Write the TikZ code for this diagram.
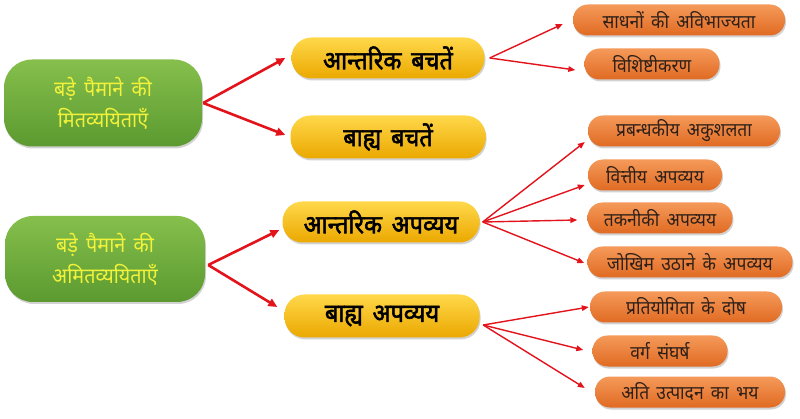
\documentclass[tikz,border=0pt]{standalone}
\usepackage{fontspec}
\newfontfamily\deva[Script=Devanagari,WordSpace=1.6,FakeStretch=0.92]{Noto Sans}
\newfontfamily\devab[Script=Devanagari,FakeBold=2.2,WordSpace=1.6,FakeStretch=0.92]{Noto Sans}
\usetikzlibrary{arrows.meta,shadows,calc}
\definecolor{gtop}{HTML}{86BF4C}
\definecolor{gbot}{HTML}{5B9A30}
\definecolor{ytop}{HTML}{FFD84A}
\definecolor{ymid}{HTML}{FFC400}
\definecolor{ybot}{HTML}{EBA800}
\definecolor{otop}{HTML}{F59A5A}
\definecolor{omid}{HTML}{EE7E35}
\definecolor{obot}{HTML}{E06A22}
\definecolor{arrred}{HTML}{E3131B}
\definecolor{gtext}{HTML}{F2F23A}
\definecolor{otext}{HTML}{2E2018}
\tikzset{
  box/.style={inner sep=0pt, align=center, drop shadow={opacity=0.35, shadow xshift=1pt, shadow yshift=-2pt}},
  greenbox/.style={box, rounded corners=28pt, top color=gtop, bottom color=gbot, text=gtext,
     font=\deva\fontsize{21.5}{31}\selectfont},
  yellowbox/.style={box, rounded corners=20pt, minimum height=41pt, top color=ytop, middle color=ymid, bottom color=ybot,
     font=\devab\fontsize{25.5}{28}\selectfont, text=black},
  orangebox/.style={box, rounded corners=15pt, minimum height=31pt, top color=otop, middle color=omid, bottom color=obot,
     font=\deva\fontsize{19}{20}\selectfont, text=otext},
  bigarr/.style={draw=arrred, line width=2.6pt, -{Triangle[length=9pt,width=8pt]}},
  smallarr/.style={draw=arrred, line width=1.4pt, -{Triangle[length=7pt,width=5.5pt]}},
}
\begin{document}
\begin{tikzpicture}[x=1pt,y=-1pt]
\useasboundingbox[fill=white] (0,0) rectangle (800,419);
% left green
\node[greenbox, minimum width=198pt, minimum height=87pt] (g1) at (103,103) {बड़े पैमाने की\\मितव्ययिताएँ};
\node[greenbox, minimum width=200pt, minimum height=86pt] (g2) at (105,259) {बड़े पैमाने की\\अमितव्ययिताएँ};
% yellow
\node[yellowbox, minimum width=193pt] (y1) at (388,58) {आन्तरिक बचतें};
\node[yellowbox, minimum width=195pt, minimum height=43pt] (y2) at (388,137) {बाह्य बचतें};
\node[yellowbox, minimum width=197pt] (y3) at (381,222) {आन्तरिक अपव्यय};
\node[yellowbox, minimum width=195pt, minimum height=43pt] (y4) at (382,316) {बाह्य अपव्यय};
% orange
\node[orangebox, minimum width=212pt] (o1) at (679,20) {साधनों की अविभाज्यता};
\node[orangebox, minimum width=135pt] (o2) at (652,64) {विशिष्टीकरण};
\node[orangebox, minimum width=192pt] (o3) at (684,131) {प्रबन्धकीय अकुशलता};
\node[orangebox, minimum width=134pt] (o4) at (655,175) {वित्तीय अपव्यय};
\node[orangebox, minimum width=145pt] (o5) at (660,218) {तकनीकी अपव्यय};
\node[orangebox, minimum width=205pt] (o6) at (690,262) {जोखिम उठाने के अपव्यय};
\node[orangebox, minimum width=192pt] (o7) at (686,307) {प्रतियोगिता के दोष};
\node[orangebox, minimum width=135pt] (o8) at (660,351) {वर्ग संघर्ष};
\node[orangebox, minimum width=190pt] (o9) at (690,392) {अति उत्पादन का भय};
% vertices
\coordinate (v1) at ([xshift=1pt]g1.east);
\coordinate (v2) at ([xshift=3pt,yshift=-6pt]g2.east);
\coordinate (v3) at ([xshift=5pt]y1.east);
\coordinate (v4) at ([xshift=3pt]y3.east);
\coordinate (v5) at ([xshift=3.5pt,yshift=-9pt]y4.east);
% arrows
\draw[bigarr] (v1) -- ([xshift=-6pt]y1.west);
\draw[bigarr] (v1) -- ([xshift=-5pt,yshift=2pt]y2.west);
\draw[bigarr] (v2) -- ([xshift=-3pt,yshift=-8pt]y3.west);
\draw[bigarr] (v2) -- ([xshift=-7pt,yshift=9pt]y4.west);
\draw[smallarr] (v3) -- ([xshift=-10pt,yshift=-4pt]o1.west);
\draw[smallarr] (v3) -- ([xshift=-9pt,yshift=-6pt]o2.west);
\draw[smallarr] (v4) -- ([xshift=-3pt,yshift=-11pt]o3.west);
\draw[smallarr] (v4) -- ([xshift=-3pt,yshift=-10pt]o4.west);
\draw[smallarr] (v4) -- ([xshift=-10pt,yshift=-2pt]o5.west);
\draw[smallarr] (v4) -- ([xshift=-3pt,yshift=-1pt]o6.west);
\draw[smallarr] (v5) -- ([xshift=-1pt]o7.west);
\draw[smallarr] (v5) -- ([xshift=-9pt,yshift=1pt]o8.west);
\draw[smallarr] (v5) -- ([xshift=-10pt,yshift=4pt]o9.west);
\end{tikzpicture}
\end{document}
